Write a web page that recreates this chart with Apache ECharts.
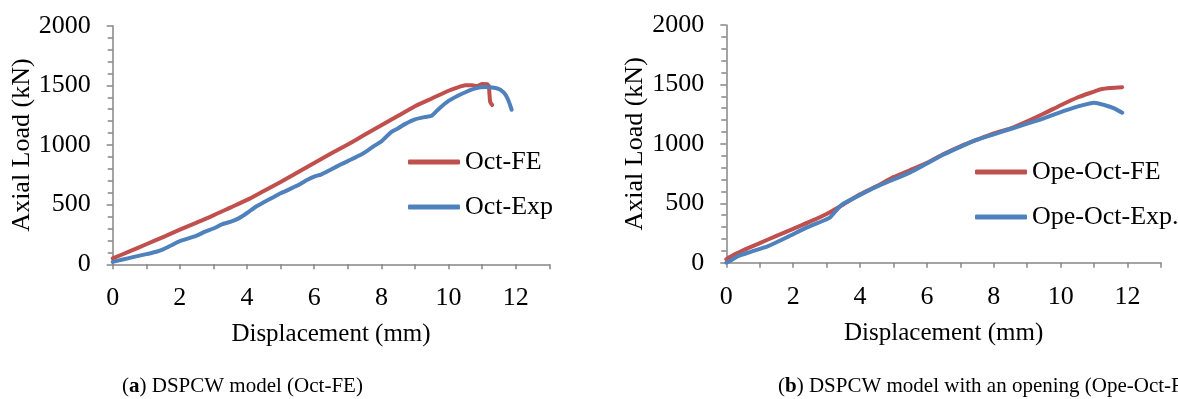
<!DOCTYPE html>
<html>
<head>
<meta charset="utf-8">
<script src="https://cdn.jsdelivr.net/npm/echarts@6/dist/echarts.min.js"></script>
<style>
html,body{margin:0;padding:0;background:#fff;}
#chart{width:1178px;height:399px;}
</style>
</head>
<body>
<div id="chart"></div>
<script>
// ---- data ----
var xTicks = [0, 2, 4, 6, 8, 10, 12];
var yTicks = [0, 500, 1000, 1500, 2000];

var octFeX = [0, 0.5, 1, 1.5, 2, 2.5, 3, 3.5, 4, 4.5, 5, 5.5, 6, 6.5, 7, 7.5, 8, 8.5, 9, 9.5, 10, 10.3, 10.5, 10.7, 10.85, 11.0, 11.15, 11.2, 11.22, 11.24, 11.3];
var octFeY = [50, 108, 168, 228, 290, 350, 410, 475, 540, 615, 690, 770, 850, 928, 1005, 1085, 1165, 1245, 1325, 1390, 1455, 1485, 1500, 1500, 1495, 1512, 1510, 1490, 1420, 1360, 1335];

var octExpX = [0, 0.3, 0.6, 1.0, 1.3, 1.5, 1.75, 2.0, 2.5, 2.75, 3.0, 3.25, 3.5, 3.75, 4.0, 4.25, 4.5, 4.8, 5.0, 5.5, 5.8, 6.0, 6.2, 6.5, 6.8, 7.0, 7.4, 7.6, 7.8, 8.0, 8.3, 8.5, 8.7, 9.0, 9.3, 9.5, 9.7, 10.0, 10.4, 10.8, 11.1, 11.4, 11.55, 11.7, 11.8, 11.88];
var octExpY = [20, 40, 60, 85, 105, 125, 160, 195, 240, 274, 300, 335, 355, 385, 430, 480, 520, 565, 595, 660, 708, 735, 752, 795, 838, 865, 920, 955, 995, 1030, 1110, 1140, 1175, 1215, 1235, 1245, 1300, 1370, 1430, 1475, 1487, 1478, 1462, 1420, 1360, 1295];

var opeFeX = [0, 0.25, 0.5, 1.0, 1.5, 2.0, 2.5, 3.0, 3.5, 4.0, 4.5, 5.0, 5.5, 6.0, 6.5, 7.0, 7.5, 8.0, 8.5, 9.0, 9.5, 10.0, 10.5, 11.0, 11.2, 11.5, 11.84];
var opeFeY = [30, 70, 105, 165, 225, 285, 345, 410, 490, 575, 645, 720, 780, 840, 915, 980, 1035, 1088, 1130, 1190, 1255, 1325, 1390, 1440, 1460, 1470, 1476];

var opeExpX = [0, 0.15, 0.35, 0.75, 1.25, 1.85, 2.35, 2.95, 3.1, 3.44, 4.0, 4.5, 5.0, 5.5, 6.0, 6.5, 7.0, 7.5, 8.0, 8.5, 9.0, 9.5, 9.9, 10.5, 11.0, 11.3, 11.6, 11.84];
var opeExpY = [0, 20, 56, 93, 140, 219, 289, 359, 380, 485, 570, 640, 700, 760, 835, 910, 975, 1035, 1080, 1125, 1170, 1215, 1257, 1313, 1346, 1327, 1299, 1262];

var captionA = ['a', ' DSPCW model (Oct-FE)'];
var captionB = ['b', ' DSPCW model with an opening (Ope-Oct-FE)'];

function pairs(xs, ys) { return xs.map(function (x, i) { return [x, ys[i]]; }); }

var FONT = '"Liberation Serif", "Times New Roman", serif';
var AXIS = '#868686';
var RED = '#C0504D';
var BLUE = '#4F81BD';

function xAxis(gi) {
  return {
    type: 'value', gridIndex: gi, min: 0, max: 13, interval: 1,
    name: 'Displacement (mm)', nameLocation: 'middle', nameGap: 58,
    nameTextStyle: { fontFamily: FONT, fontSize: 25, color: '#000' },
    axisLine: { show: true, onZero: false, lineStyle: { color: AXIS, width: 1.5 } },
    axisTick: { show: true, inside: false, length: 5, lineStyle: { color: AXIS, width: 1.5 } },
    splitLine: { show: false },
    axisLabel: {
      margin: 21, fontFamily: FONT, fontSize: 26, color: '#000',
      formatter: function (v) { return xTicks.indexOf(v) >= 0 ? String(v) : ''; }
    }
  };
}
function yAxis(gi) {
  return {
    type: 'value', gridIndex: gi, min: 0, max: 2000, interval: 500,
    name: 'Axial Load (kN)', nameLocation: 'middle', nameGap: 77, nameRotate: 90,
    nameTextStyle: { fontFamily: FONT, fontSize: 26, color: '#000' },
    axisLine: { show: true, lineStyle: { color: AXIS, width: 1.5 } },
    axisTick: { show: true, inside: false, length: 6, lineStyle: { color: AXIS, width: 1.5 } },
    minorTick: { show: true, splitNumber: 5, length: 5, lineStyle: { color: AXIS, width: 1.5 } },
    splitLine: { show: false },
    axisLabel: {
      margin: 22, fontFamily: FONT, fontSize: 26, color: '#000',
      formatter: function (v) { return yTicks.indexOf(v) >= 0 ? String(v) : ''; }
    }
  };
}
function line(name, gi, xs, ys, color) {
  return {
    name: name, type: 'line', xAxisIndex: gi, yAxisIndex: gi,
    data: pairs(xs, ys), showSymbol: false, symbol: 'none', smooth: 0.2,
    lineStyle: { color: color, width: 4, cap: 'round', join: 'round' },
    itemStyle: { color: color }, animation: false
  };
}
function legend(names, left, top) {
  return {
    data: names, orient: 'vertical', left: left, top: top, itemGap: 19,
    icon: 'roundRect', itemWidth: 52, itemHeight: 5,
    textStyle: { fontFamily: FONT, fontSize: 26, color: '#000', lineHeight: 26 },
    selectedMode: false
  };
}
function caption(parts, left) {
  return {
    text: '({b|' + parts[0] + '})' + parts[1],
    left: left, top: 371,
    textStyle: {
      fontFamily: FONT, fontSize: 21, fontWeight: 'normal', color: '#000',
      rich: { b: { fontFamily: FONT, fontSize: 21, fontWeight: 'bold', color: '#000' } }
    }
  };
}

var chart = echarts.init(document.getElementById('chart'), null, { renderer: 'canvas' });
chart.setOption({
  backgroundColor: '#fff',
  animation: false,
  title: [caption(captionA, 117), caption(captionB, 773)],
  grid: [
    { left: 112.7, top: 25.7, width: 436.6, height: 238.6 },
    { left: 726.3, top: 25, width: 434.7, height: 237.7 }
  ],
  xAxis: [xAxis(0), xAxis(1)],
  yAxis: [yAxis(0), yAxis(1)],
  legend: [
    legend(['Oct-FE', 'Oct-Exp'], 403, 144),
    legend(['Ope-Oct-FE', 'Ope-Oct-Exp.'], 970, 154)
  ],
  series: [
    line('Oct-FE', 0, octFeX, octFeY, RED),
    line('Oct-Exp', 0, octExpX, octExpY, BLUE),
    line('Ope-Oct-FE', 1, opeFeX, opeFeY, RED),
    line('Ope-Oct-Exp.', 1, opeExpX, opeExpY, BLUE)
  ]
});
</script>
</body>
</html>
